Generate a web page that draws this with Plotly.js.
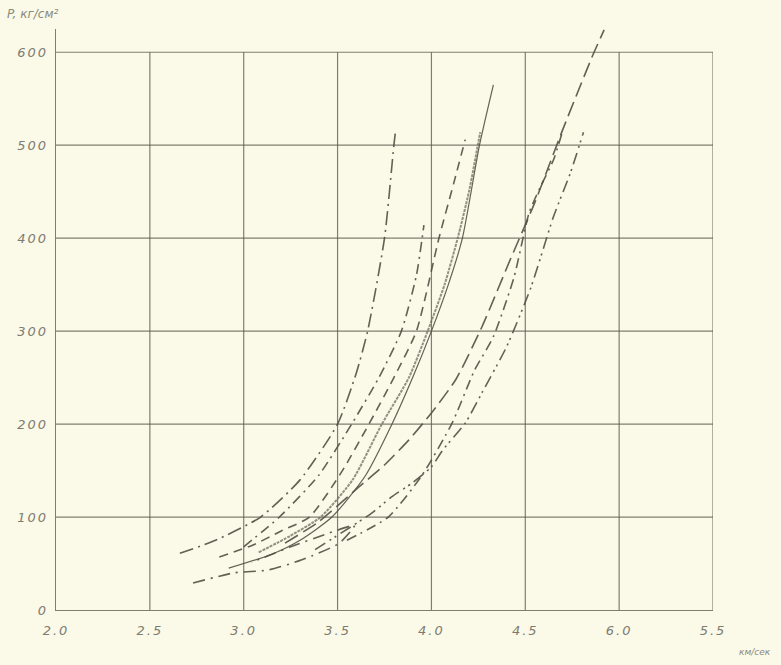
<!DOCTYPE html>
<html>
<head>
<meta charset="utf-8">
<script src="https://cdn.plot.ly/plotly-3.0.1.min.js"></script>
<style>
html,body{margin:0;padding:0;background:#fbf9e8;}
#chart{width:781px;height:665px;}
#chart .xtick text, #chart .ytick text{letter-spacing:2px;}
</style>
</head>
<body>
<div id="chart"></div>
<script>
// Tick values and labels
var xTickVals = [2.0, 2.5, 3.0, 3.5, 4.0, 4.5, 5.0, 5.5];
var xTickText = ["2.0", "2.5", "3.0", "3.5", "4.0", "4.5", "6.0", "5.5"];
var yTickVals = [0, 100, 200, 300, 400, 500, 600];
var yTickText = ["0", "100", "200", "300", "400", "500", "600"];

// Curves: velocity (км/сек) vs pressure (кг/см²)
var c1V = [2.66, 2.85, 3.09, 3.30, 3.50, 3.60, 3.66, 3.75, 3.80, 3.81];
var c1P = [61, 75, 100, 140, 200, 255, 300, 400, 500, 517];

var c2V = [3.00, 3.19, 3.40, 3.575, 3.72, 3.84, 3.92, 3.96];
var c2P = [68, 100, 145, 200, 250, 300, 360, 414];

var c3V = [2.87, 3.05, 3.20, 3.35, 3.52, 3.667, 3.80, 3.92, 4.04, 4.12, 4.18];
var c3P = [57, 70, 85, 100, 148, 200, 250, 300, 400, 460, 506];

var c4V = [3.08, 3.25, 3.41, 3.58, 3.736, 3.88, 3.98, 4.07, 4.14, 4.20, 4.26];
var c4P = [62, 80, 100, 140, 200, 250, 300, 350, 400, 450, 514];

var c5V = [2.92, 3.15, 3.30, 3.47, 3.65, 3.79, 3.90, 4.00, 4.09, 4.165, 4.256, 4.33];
var c5P = [45, 60, 75, 100, 145, 200, 250, 300, 350, 400, 500, 565];

var c6V = [3.22, 3.40, 3.60, 3.75, 3.88, 4.00, 4.13, 4.27, 4.42, 4.55, 4.70, 4.86, 4.92];
var c6P = [72, 95, 130, 156, 183, 212, 248, 305, 377, 438, 517, 597, 624];

var c7V = [3.38, 3.68, 3.79, 3.90, 4.00, 4.06, 4.18, 4.27, 4.40, 4.53, 4.65, 4.74, 4.81];
var c7P = [65, 104, 122, 137, 154, 172, 201, 234, 283, 347, 423, 470, 514];

var c8V = [3.55, 3.77, 3.95, 4.11, 4.23, 4.33, 4.44, 4.52, 4.58, 4.65, 4.70];
var c8P = [75, 100, 145, 201, 258, 294, 358, 427, 455, 484, 516];

var c9V = [2.73, 2.95, 3.13, 3.31, 3.51, 3.59, 3.43, 3.25, 3.04];
var c9P = [29, 40, 43, 54, 72, 91, 81, 68, 51];

var ink = "rgba(80,80,68,0.9)";
function curve(v, p, dash, w, col) {
  return {x: v, y: p, type: "scatter", mode: "lines",
    line: {color: col || ink, width: w || 1.5, dash: dash, shape: "spline", smoothing: 0.6},
    hoverinfo: "skip", showlegend: false};
}

var data = [
  curve(c1V, c1P, "14px,5px,2px,5px", 1.6),
  curve(c2V, c2P, "10px,5px,2px,5px", 1.6),
  curve(c3V, c3P, "9px,6px", 1.6),
  curve(c4V, c4P, "3px,1px", 2.0, "rgba(110,110,95,0.75)"),
  curve(c5V, c5P, "solid", 1.2),
  curve(c6V, c6P, "15px,6px", 1.6),
  curve(c7V, c7P, "12px,5px,2px,4px,2px,5px", 1.6),
  curve(c8V, c8P, "10px,5px,2px,5px", 1.6),
  curve(c9V, c9P, "12px,6px,2px,6px", 1.6)
];

var gridCol = "rgba(85,85,72,0.75)";
var shapes = [];
xTickVals.forEach(function (v) {
  if (v > xTickVals[0]) shapes.push({type: "line", xref: "x", yref: "y", x0: v, x1: v, y0: 0, y1: yTickVals[yTickVals.length - 1], line: {color: gridCol, width: 1.2}, layer: "below"});
});
yTickVals.forEach(function (p) {
  if (p > 0) shapes.push({type: "line", xref: "x", yref: "y", x0: xTickVals[0], x1: xTickVals[xTickVals.length - 1], y0: p, y1: p, line: {color: gridCol, width: 1.2}, layer: "below"});
});

var tickFont = {family: "DejaVu Sans", size: 13, color: "#7c7c70", style: "italic"};

var layout = {
  width: 781, height: 665,
  paper_bgcolor: "#fbf9e8", plot_bgcolor: "#fbf9e8",
  margin: {l: 56, r: 68, t: 29, b: 55},
  xaxis: {range: [2.0, 5.5], tickvals: xTickVals, ticktext: xTickText, showgrid: false, zeroline: false,
    showline: true, linecolor: gridCol, linewidth: 1.3, ticks: "", tickfont: tickFont, ticklabelstandoff: 8},
  yaxis: {range: [0, 625], tickvals: yTickVals, ticktext: yTickText, showgrid: false, zeroline: false,
    showline: true, linecolor: gridCol, linewidth: 1.3, ticks: "", tickfont: tickFont, ticklabelstandoff: 4},
  shapes: shapes,
  annotations: [
    {text: "P, кг/см²", xref: "paper", yref: "paper", x: -0.077, y: 1.0, xanchor: "left", yanchor: "bottom",
     yshift: 6, showarrow: false, font: {family: "DejaVu Sans", size: 12, color: "#8a8a7c", style: "italic"}},
    {text: "км/сек", xref: "paper", yref: "paper", x: 1.064, y: 0, xanchor: "center", yanchor: "middle",
     yshift: -42, showarrow: false, font: {family: "DejaVu Sans", size: 9, color: "#8a8a7c", style: "italic"}}
  ]
};

Plotly.newPlot("chart", data, layout, {staticPlot: true, displayModeBar: false});
</script>
</body>
</html>
